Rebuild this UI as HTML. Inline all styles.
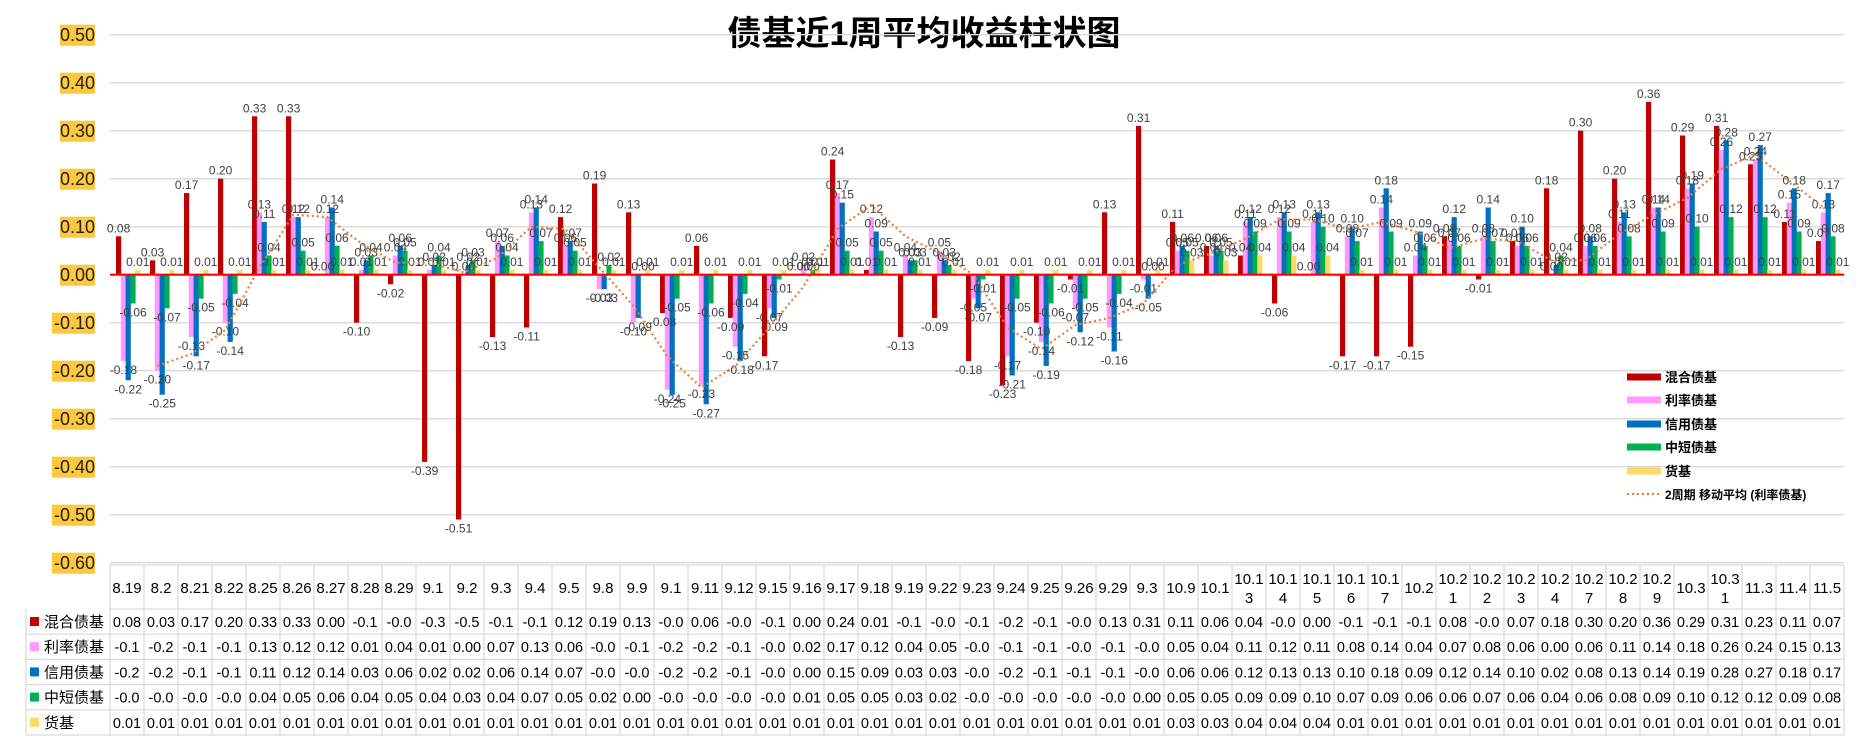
<!DOCTYPE html>
<html><head><meta charset="utf-8">
<style>
body{margin:0;background:#fff;}
svg{display:block;font-family:"Liberation Sans","Noto Sans CJK SC",sans-serif;}
</style></head>
<body>
<svg id="chart" width="1857" height="743" viewBox="0 0 1857 743" xmlns="http://www.w3.org/2000/svg">
<text x="924" y="45" text-anchor="middle" font-size="34" font-weight="bold" fill="#000">债基近1周平均收益柱状图</text>
<g id="grid"></g><g id="yaxis"></g><g id="bars"></g><g id="labels"></g><g id="line"></g><g id="table"></g><g id="legend"></g>
</svg>
<script>
const categories=["8.19","8.2","8.21","8.22","8.25","8.26","8.27","8.28","8.29","9.1","9.2","9.3","9.4","9.5","9.8","9.9","9.1","9.11","9.12","9.15","9.16","9.17","9.18","9.19","9.22","9.23","9.24","9.25","9.26","9.29","9.3","10.9","10.1","10.13","10.14","10.15","10.16","10.17","10.2","10.21","10.22","10.23","10.24","10.27","10.28","10.29","10.3","10.31","11.3","11.4","11.5"];
const mixed=[0.08,0.03,0.17,0.20,0.33,0.33,0.00,-0.10,-0.02,-0.39,-0.51,-0.13,-0.11,0.12,0.19,0.13,-0.08,0.06,-0.09,-0.17,0.00,0.24,0.01,-0.13,-0.09,-0.18,-0.23,-0.10,-0.01,0.13,0.31,0.11,0.06,0.04,-0.06,0.00,-0.17,-0.17,-0.15,0.08,-0.01,0.07,0.18,0.30,0.20,0.36,0.29,0.31,0.23,0.11,0.07];
const rate=[-0.18,-0.20,-0.13,-0.10,0.13,0.12,0.12,0.01,0.04,0.01,0.00,0.07,0.13,0.06,-0.03,-0.10,-0.24,-0.23,-0.15,-0.07,0.02,0.17,0.12,0.04,0.05,-0.05,-0.17,-0.14,-0.07,-0.11,-0.01,0.05,0.04,0.11,0.12,0.11,0.08,0.14,0.04,0.07,0.08,0.06,0.00,0.06,0.11,0.14,0.18,0.26,0.24,0.15,0.13];
const credit=[-0.22,-0.25,-0.17,-0.14,0.11,0.12,0.14,0.03,0.06,0.02,0.02,0.06,0.14,0.07,-0.03,-0.09,-0.25,-0.27,-0.18,-0.09,0.00,0.15,0.09,0.03,0.03,-0.07,-0.21,-0.19,-0.12,-0.16,-0.05,0.06,0.06,0.12,0.13,0.13,0.10,0.18,0.09,0.12,0.14,0.10,0.02,0.08,0.13,0.14,0.19,0.28,0.27,0.18,0.17];
const shortTerm=[-0.06,-0.07,-0.05,-0.04,0.04,0.05,0.06,0.04,0.05,0.04,0.03,0.04,0.07,0.05,0.02,0.00,-0.05,-0.06,-0.04,-0.01,0.01,0.05,0.05,0.03,0.02,-0.01,-0.05,-0.06,-0.05,-0.04,0.00,0.05,0.05,0.09,0.09,0.10,0.07,0.09,0.06,0.06,0.07,0.06,0.04,0.06,0.08,0.09,0.10,0.12,0.12,0.09,0.08];
const money=[0.01,0.01,0.01,0.01,0.01,0.01,0.01,0.01,0.01,0.01,0.01,0.01,0.01,0.01,0.01,0.01,0.01,0.01,0.01,0.01,0.01,0.01,0.01,0.01,0.01,0.01,0.01,0.01,0.01,0.01,0.01,0.03,0.03,0.04,0.04,0.04,0.01,0.01,0.01,0.01,0.01,0.01,0.01,0.01,0.01,0.01,0.01,0.01,0.01,0.01,0.01];
const yTicks=[0.5,0.4,0.3,0.2,0.1,0,-0.1,-0.2,-0.3,-0.4,-0.5,-0.6];
const seriesNames=["混合债基","利率债基","信用债基","中短债基","货基"];
const seriesKeys=["mixed","rate","credit","short-term","money"];
const colors=["#C00000","#FF99FF","#0070C0","#00B050","#FFD966"];
const series=[mixed,rate,credit,shortTerm,money];

const NS="http://www.w3.org/2000/svg";
const L=110,R=1844,zeroY=274.7,pxPer=480,colW=(R-L)/categories.length;
const y=v=>zeroY-v*pxPer;
const gx=i=>L+i*colW;
const barX=(i,j)=>gx(i)+6+j*4.8;
function mk(tag,attrs,parent,text){const e=document.createElementNS(NS,tag);for(const k in attrs)e.setAttribute(k,attrs[k]);if(text!==undefined)e.textContent=text;parent.appendChild(e);return e;}
const G=id=>document.getElementById(id);

yTicks.forEach(t=>{
  if(t!==0){const gl=mk('line',{x1:L,x2:R,y1:y(t),y2:y(t),stroke:'#d9d9d9','stroke-width':1.3},G('grid'));
  
  }
  const s=(t<0?'-':'')+Math.abs(t).toFixed(2);
  const bx=mk('rect',{x:t<0?52:60,y:y(t)-10,width:t<0?43:35,height:21,fill:'#FFC83D'},G('yaxis'));
  
  
  const tx=mk('text',{x:95,y:y(t)+6.5,'text-anchor':'end','font-size':18,fill:'#222'},G('yaxis'),s);
  
  
});

series.forEach((arr,j)=>{
  arr.forEach((v,i)=>{
    const x=barX(i,j),top=Math.min(y(v),zeroY),h=Math.max(Math.abs(y(v)-zeroY),0.5);
    const r=mk('rect',{x:x,y:top,width:5.2,height:h,fill:colors[j]},G('bars'));
    
    
    const ty=v>=0?top-4:top+h+13;
    const lb=mk('text',{x:x+2.6,y:ty,'text-anchor':'middle','font-size':12,fill:'#404040'},G('labels'),v.toFixed(2));
    
    
  });
});
const ax=mk('line',{x1:L,x2:R,y1:zeroY,y2:zeroY,stroke:'#FF0000','stroke-width':2.2},G('grid').parentNode);



let pts=[];
for(let i=1;i<rate.length;i++){pts.push((barX(i,1)+2.6).toFixed(1)+','+y((rate[i]+rate[i-1])/2).toFixed(1));}
const ml=mk('polyline',{points:pts.join(' '),fill:'none',stroke:'#ED7D31','stroke-width':2.2,'stroke-dasharray':'2 3'},G('line'));



const T=G('table'),hTop=565,hBot=609,rowH=25.2,lblX=26;
function tl(x1,y1,x2,y2){const l=mk('line',{x1,y1,x2,y2,stroke:'#d9d9d9','stroke-width':1.2},T);}
const tBot=hBot+rowH*5;
tl(L,hTop,R,hTop);
for(let r=0;r<=5;r++)tl(r===0?L:lblX,hBot+r*rowH,R,hBot+r*rowH);
tl(lblX,hBot,lblX,tBot);
for(let i=0;i<=categories.length;i++)tl(gx(i),hTop,gx(i),tBot);
categories.forEach((c,i)=>{
  const cx=gx(i)+colW/2;
  if(c.length>4){
    const t=mk('text',{x:cx,y:hTop+19,'text-anchor':'middle','font-size':15,fill:'#000'},T,c.slice(0,4));
    
    
    const t2=mk('text',{x:cx,y:hTop+38,'text-anchor':'middle','font-size':15,fill:'#000'},T,c.slice(4));
    
    
  }else{
    const t=mk('text',{x:cx,y:hTop+28,'text-anchor':'middle','font-size':15,fill:'#000'},T,c);
    
    
  }
});
series.forEach((arr,j)=>{
  const ry=hBot+j*rowH;
  const k=mk('rect',{x:lblX+4,y:ry+8,width:9,height:9,fill:colors[j]},T);
  
  
  const n=mk('text',{x:lblX+18,y:ry+18,'font-size':15,fill:'#000'},T,seriesNames[j]);
  
  
  arr.forEach((v,i)=>{
    const s=v.toFixed(2).slice(0,4);
    const c=mk('text',{x:gx(i)+colW/2,y:ry+18,'text-anchor':'middle','font-size':14.5,fill:'#000'},T,s);
    
    
  });
});

const LG=G('legend');
const legY=[377,400,424,447,471];
seriesNames.forEach((n,j)=>{
  const r=mk('rect',{x:1627,y:legY[j]-3.5,width:34,height:7,fill:colors[j]},LG);
  
  
  const t=mk('text',{x:1665,y:legY[j]+5,'font-size':13,'font-weight':'bold',fill:'#000'},LG,n);
  
  
});
const ll=mk('line',{x1:1627,x2:1661,y1:494,y2:494,stroke:'#ED7D31','stroke-width':2,'stroke-dasharray':'2 3'},LG);


const lt=mk('text',{x:1665,y:499,'font-size':12,'font-weight':'bold',fill:'#000'},LG,'2周期 移动平均 (利率债基)');


</script>
</body></html>
